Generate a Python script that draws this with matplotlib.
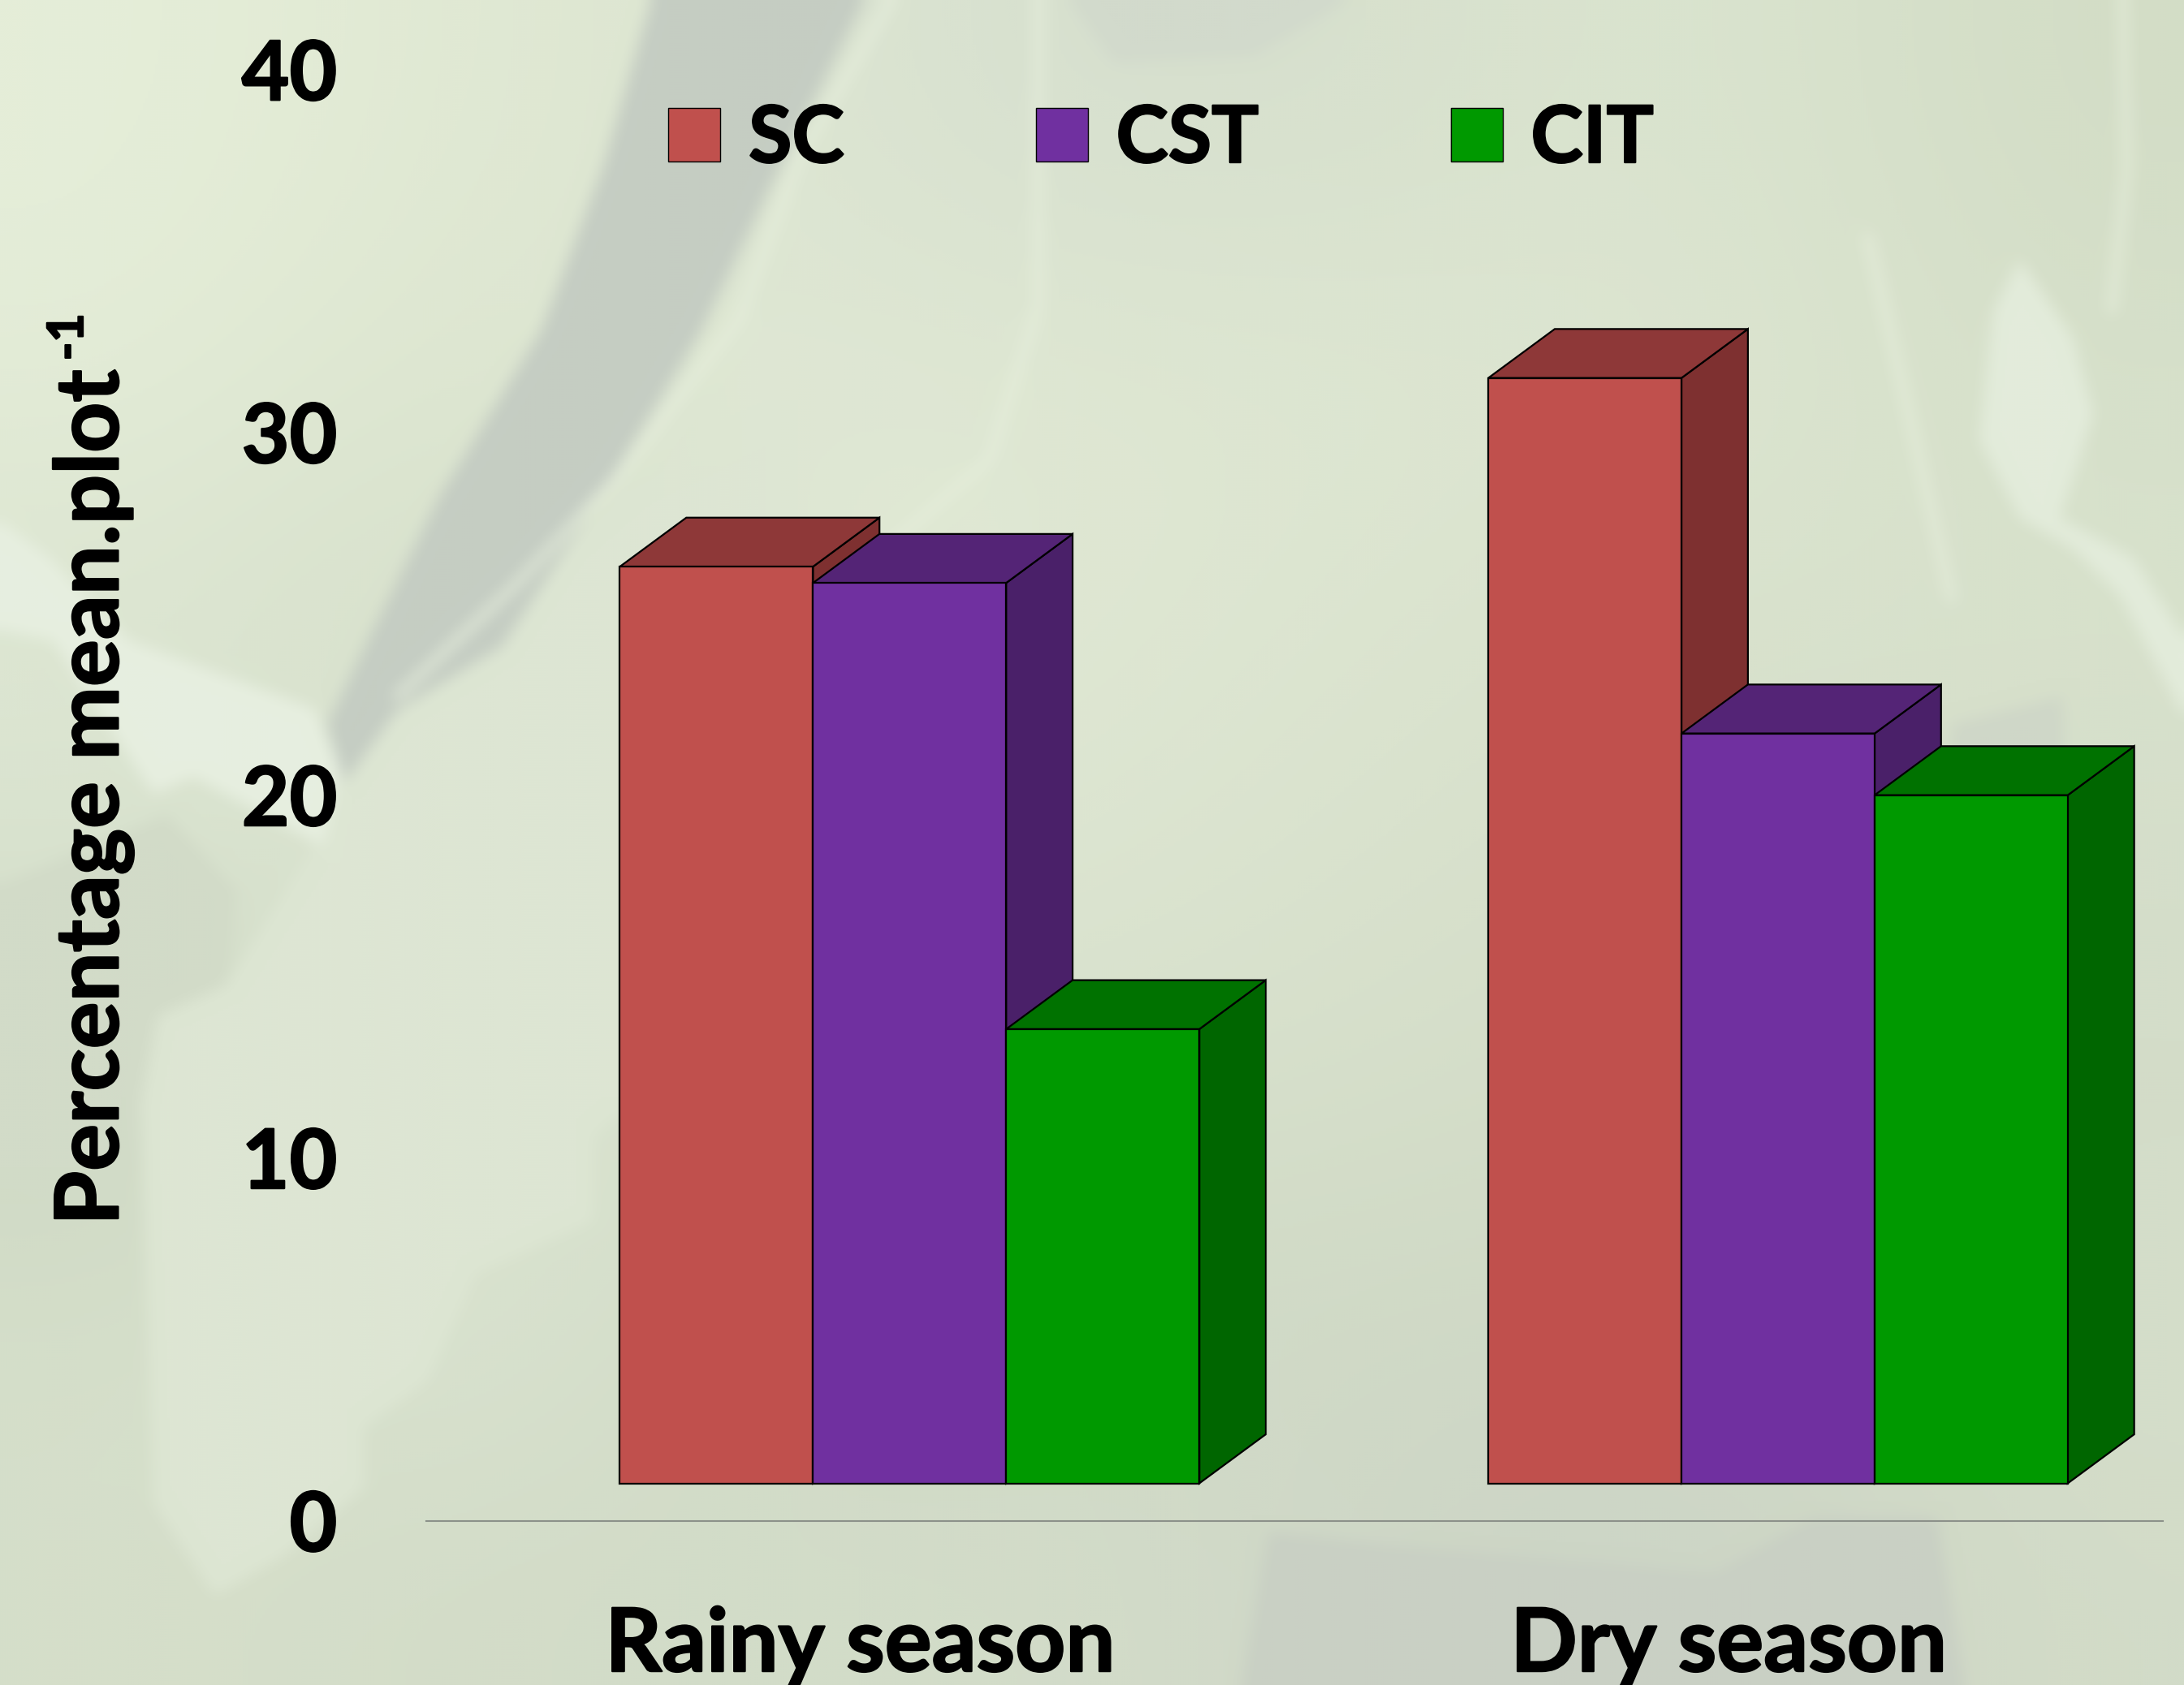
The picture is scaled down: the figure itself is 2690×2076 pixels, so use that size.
import numpy as np
import matplotlib
matplotlib.use("Agg")
import matplotlib.pyplot as plt
import matplotlib.patheffects as pe
from matplotlib.figure import Figure
from matplotlib.backends.backend_agg import FigureCanvasAgg
from matplotlib.patches import Patch, Polygon

W, H = 2690, 2076
FONT = "Lato"

seasons = ["Rainy season", "Dry season"]
treatments = ["SC", "CST", "CIT"]
sc_vals = [26.3, 31.5]
cst_vals = [25.85, 21.7]
cit_vals = [13.55, 20.0]
yticks = [0, 10, 20, 30, 40]

# front, top, side colours
sc_cols = ["#C0504D", "#8E3838", "#7E3030"]
cst_cols = ["#7030A0", "#542476", "#4A2069"]
cit_cols = ["#009900", "#007200", "#006600"]

# background picture (coarse colours + leaf shapes, in 1568x1210 coords)
bg_grid = [
    ["#e6efd9", "#e0e9d3", "#dde6d2", "#d6dfcf", "#d8e1cd", "#dbe5d0", "#d3ddc6"],
    ["#e4edd8", "#dde6d0", "#dfe8d5", "#dfe8d2", "#dde7d2", "#dde6d1", "#d6e0ca"],
    ["#dde6d2", "#d5dfca", "#e1ead6", "#dfe8d3", "#dce5d0", "#d9e2cd", "#d8e2cc"],
    ["#dbe5d1", "#dbe4d0", "#dde6d0", "#dde6d2", "#d9e2cd", "#d6dfcb", "#d6dfcb"],
    ["#cdd7c3", "#d8e2ce", "#dbe4d0", "#d8e1cd", "#d6dfca", "#d3dcc8", "#d3dcc8"],
    ["#d5dfca", "#dde6d3", "#d0dac6", "#d0dac6", "#d0dac6", "#cfd9c5", "#d6dfcb"],
    ["#d6dfca", "#d3dcc8", "#d2dcc8", "#d4ddca", "#ced6c7", "#ccd4c6", "#d3dcc8"],
]
grey_streak = [(470, -10), (625, -10), (560, 119), (503, 238), (430, 357), (360, 464), (285, 510),
               (247, 562), (235, 520), (262, 464), (315, 357), (388, 238), (433, 119)]
white_band = [(-10, 366), (35, 400), (93, 460), (226, 509), (244, 553), (232, 608), (139, 558),
              (110, 570), (38, 460), (-10, 450)]
lower_leaf = [(247, 547), (278, 515), (360, 432), (455, 350), (560, 300), (560, 800), (444, 800),
              (426, 816), (426, 877), (342, 915), (307, 992), (261, 1025), (261, 1069),
              (203, 1118), (154, 1146), (110, 1080), (100, 760), (113, 729), (162, 707), (232, 597)]
left_dark = [(-10, 640), (120, 585), (170, 640), (162, 707), (113, 729), (90, 850), (-10, 850)]
bottom_grey = [(890, 1215), (910, 1100), (1000, 1110), (1230, 1130), (1300, 1090), (1390, 1090),
               (1410, 1215)]
top_grey = [(760, -10), (985, -10), (900, 40), (800, 45)]
right_blob = [(1449, 186), (1430, 223), (1420, 316), (1449, 372), (1487, 394), (1521, 428),
              (1575, 530), (1575, 470), (1530, 400), (1478, 372), (1502, 297), (1487, 242)]
right_grey = [(1385, 1000), (1400, 520), (1480, 500), (1490, 1000)]
veins = [
    [(640, 0), (575, 110), (530, 230), (445, 340), (370, 420), (285, 500)],
    [(745, 0), (745, 220), (710, 330), (640, 390), (560, 470)],
    [(1523, 0), (1526, 120), (1515, 223)],
    [(1340, 170), (1370, 300), (1400, 430)],
]


def background():
    bg = Figure(figsize=(W / 300, H / 300), dpi=100)
    FigureCanvasAgg(bg)
    a = bg.add_axes([0, 0, 1, 1])
    rgb = np.array([[matplotlib.colors.to_rgb(c) for c in row] for row in bg_grid])
    a.imshow(rgb, extent=[0, 1568, 1210, 0], interpolation="bicubic", aspect="auto")
    a.set_xlim(0, 1568)
    a.set_ylim(1210, 0)
    a.axis("off")
    a.add_patch(Polygon(lower_leaf, fc="#dde6d3", ec="none"))
    a.add_patch(Polygon(left_dark, fc="#d2dbc8", ec="none"))
    a.add_patch(Polygon(grey_streak, fc="#c5cdc3", ec="none"))
    a.add_patch(Polygon(white_band, fc="#e7efe0", ec="none"))
    a.add_patch(Polygon(bottom_grey, fc="#c9d0c4", ec="none"))
    a.add_patch(Polygon(top_grey, fc="#d2dacc", ec="none"))
    a.add_patch(Polygon(right_grey, fc="#cfd7c8", ec="none"))
    a.add_patch(Polygon(right_blob, fc="#e3ecdb", ec="none"))
    for v in veins:
        xs, ys = zip(*v)
        a.plot(xs, ys, color="#e8f0de", lw=2.0)
    bg.canvas.draw()
    img = np.asarray(bg.canvas.buffer_rgba())[:, :, :3] / 255.0
    # soften edges
    kernel = np.ones(7) / 7
    for _ in range(2):
        for axis in (0, 1):
            pad = [(0, 0)] * 3
            pad[axis] = (3, 3)
            img = np.apply_along_axis(lambda m: np.convolve(m, kernel, mode="valid"), axis,
                                      np.pad(img, pad, mode="edge"))
    return img


def draw_box(ax, x, width, base, top, depth_x, depth_y, cols):
    side = [(x + width, base), (x + width + depth_x, base + depth_y),
            (x + width + depth_x, top + depth_y), (x + width, top)]
    roof = [(x, top), (x + depth_x, top + depth_y), (x + width + depth_x, top + depth_y), (x + width, top)]
    front = [(x, base), (x + width, base), (x + width, top), (x, top)]
    for pts, c in zip([side, roof, front], [cols[2], cols[1], cols[0]]):
        ax.add_patch(Polygon(pts, closed=True, fc=c, ec="black", lw=1.6, joinstyle="miter",
                             clip_on=False, zorder=3))


fig = plt.figure(figsize=(W / 100, H / 100), dpi=100)

bg_ax = fig.add_axes([0, 0, 1, 1], zorder=0)
bg_ax.imshow(background(), aspect="auto", interpolation="bilinear")
bg_ax.axis("off")

# axes box in shrunk picture coords
left, right, y0, y40 = 306, 1553, 1092, 50
ax = fig.add_axes([left / 1568, 1 - y0 / 1210, (right - left) / 1568, (y0 - y40) / 1210], zorder=1)
ax.patch.set_alpha(0)
ax.set_xlim(-0.5, 1.5)
ax.set_ylim(0, 40)

bar_w = 0.2224
start = -0.277
depth_x = 0.0765
depth_y = 1.35
base = 1.03
for i in range(2):
    for j, (vals, cols) in enumerate(zip([sc_vals, cst_vals, cit_vals], [sc_cols, cst_cols, cit_cols])):
        draw_box(ax, i + start + j * bar_w, bar_w, base, vals[i], depth_x, depth_y, cols)

for s in ["top", "right", "left"]:
    ax.spines[s].set_visible(False)
ax.spines["bottom"].set_color("#8c918a")
ax.spines["bottom"].set_linewidth(1.5)

heavy = [pe.withStroke(linewidth=1.6, foreground="black")]

ax.set_yticks(yticks)
ax.set_yticklabels([str(v) for v in yticks], fontfamily=FONT, fontweight="bold", fontsize=73, path_effects=heavy)
ax.set_xticks([0, 1])
ax.set_xticklabels(seasons, fontfamily=FONT, fontweight="bold", fontsize=78, path_effects=heavy)
ax.tick_params(axis="y", length=0, pad=79)
ax.tick_params(axis="x", length=0, pad=76)

fig.text(67 / 1568, 1 - 880 / 1210, "Percentage mean.plot", rotation=90, ha="center", va="bottom",
         fontfamily=FONT, fontweight="bold", fontsize=78, path_effects=heavy)
fig.text(49 / 1568, 1 - 259 / 1210, "-1", rotation=90, ha="center", va="bottom",
         fontfamily=FONT, fontweight="bold", fontsize=44, path_effects=heavy)

handles = [Patch(fc=c[0], ec="black", lw=1.0) for c in [sc_cols, cst_cols, cit_cols]]
fs = 70
leg = ax.legend(handles, treatments, ncol=3, frameon=False, loc="center left",
                bbox_to_anchor=(480 / 1568, 1 - 100 / 1210), bbox_transform=fig.transFigure,
                prop={"family": FONT, "weight": "bold", "size": fs}, borderpad=0, borderaxespad=0,
                handlelength=46 / fs, handleheight=46 / fs, handletextpad=25 / fs, columnspacing=170 / fs)
for t in leg.get_texts():
    t.set_path_effects(heavy)

fig.savefig("out.png", dpi=100)
